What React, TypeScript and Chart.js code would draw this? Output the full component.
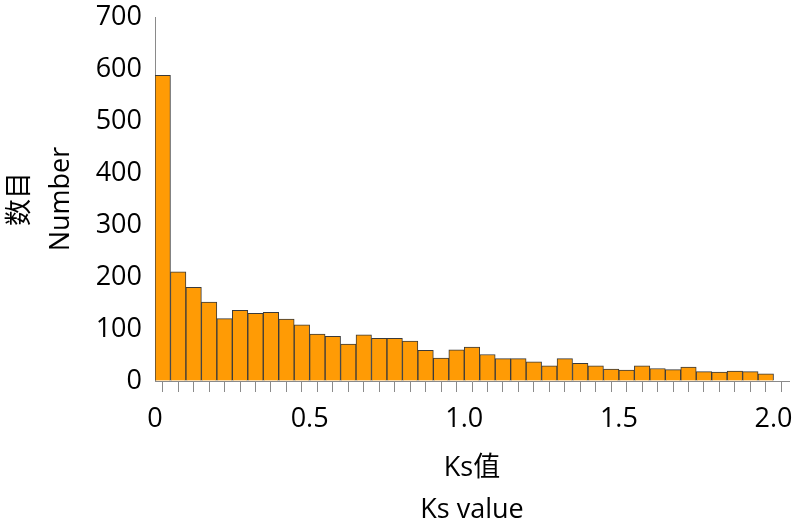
import React, { useEffect, useRef } from "react";
import { Chart, registerables } from "chart.js";

Chart.register(...registerables);

const BIN_WIDTH = 0.05;
const X_MAX = 2.05;
const counts: number[] = [
  588, 210, 180, 152, 120, 136, 130, 132, 119, 108,
  90, 86, 71, 89, 82, 82, 77, 59, 44, 60,
  65, 51, 43, 43, 37, 29, 43, 34, 29, 23,
  21, 29, 24, 22, 27, 18, 17, 19, 18, 14,
];
const xLabelValues: number[] = [0, 0.5, 1.0, 1.5, 2.0];
const yTitle: string[] = ["数目", "Number"];
const xTitle: string[] = ["Ks值", "Ks value"];

const FONT = "'Open Sans', 'Noto Sans CJK SC', sans-serif";

export default function App() {
  const ref = useRef<HTMLCanvasElement | null>(null);

  useEffect(() => {
    if (!ref.current) return;
    const data = counts.map((c, i) => ({ x: i * BIN_WIDTH + BIN_WIDTH / 2, y: c }));
    const chart = new Chart(ref.current, {
      type: "bar",
      data: {
        datasets: [
          {
            data,
            backgroundColor: "#FF9B05",
            borderColor: "#3a3a3a",
            borderWidth: 1,
            barPercentage: 1,
            categoryPercentage: 1,
          },
        ],
      },
      options: {
        animation: false,
        responsive: false,
        maintainAspectRatio: false,
        layout: { padding: { top: 0, right: 11, bottom: 0, left: 0 } },
        plugins: { legend: { display: false }, tooltip: { enabled: false } },
        scales: {
          x: {
            type: "linear",
            min: 0,
            max: X_MAX,
            offset: false,
            afterFit: (s: any) => {
              s.height = 146;
            },
            border: { display: true, color: "#8a8a8a", width: 1 },
            grid: {
              drawOnChartArea: false,
              drawTicks: true,
              tickLength: 11,
              color: "#8a8a8a",
            },
            ticks: {
              stepSize: BIN_WIDTH,
              autoSkip: false,
              maxRotation: 0,
              padding: 11,
              color: "#000",
              font: { family: FONT, size: 27 },
              callback: (v: any) => {
                const n = Number(v);
                const hit = xLabelValues.find((l) => Math.abs(l - n) < 1e-6);
                if (hit === undefined) return "";
                return hit === 0 ? "0" : hit.toFixed(1);
              },
            },
            title: {
              display: true,
              text: xTitle,
              color: "#000",
              font: { family: FONT, size: 27, lineHeight: 1.55 },
              padding: { top: 10, bottom: -4 },
            },
          },
          y: {
            min: 0,
            max: 700,
            afterFit: (s: any) => {
              s.width = 155;
              s.paddingTop = 17;
            },
            border: { display: true, color: "#8a8a8a", width: 1 },
            grid: { drawOnChartArea: false, drawTicks: false },
            ticks: {
              stepSize: 100,
              padding: 13,
              color: "#000",
              font: { family: FONT, size: 27 },
            },
            title: {
              display: true,
              text: yTitle,
              color: "#000",
              font: { family: FONT, size: 27, lineHeight: 1.55 },
              padding: { top: -1, bottom: 0 },
            },
          },
        },
      },
    });
    return () => chart.destroy();
  }, []);

  return (
    <div style={{ position: "fixed", left: 0, top: 0, width: 800, height: 527, background: "#fff" }}>
      <canvas ref={ref} width={800} height={527} style={{ width: 800, height: 527 }} />
    </div>
  );
}
